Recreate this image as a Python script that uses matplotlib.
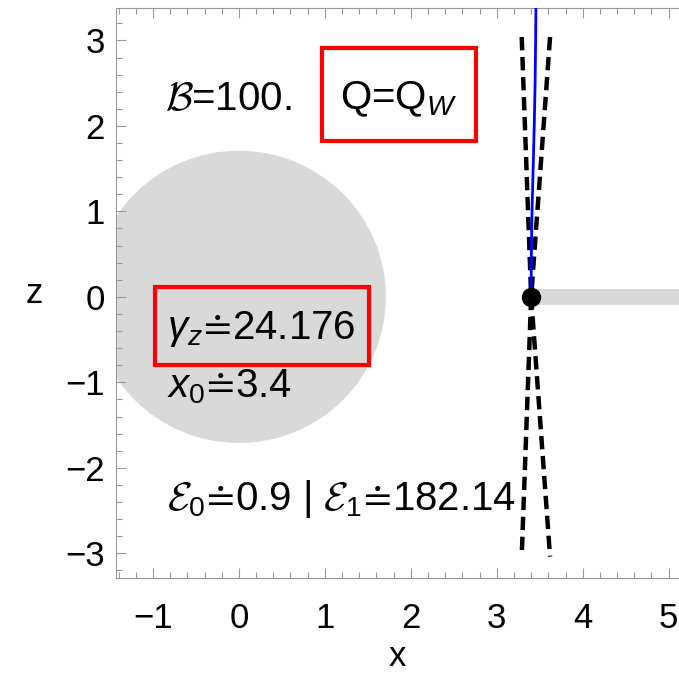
import matplotlib
matplotlib.use("Agg")
import matplotlib.pyplot as plt
from matplotlib.patches import Circle, Rectangle
from matplotlib.ticker import MultipleLocator

plt.rcParams['font.family'] = ['Liberation Sans', 'DejaVu Sans']
plt.rcParams['mathtext.fontset'] = 'custom'
plt.rcParams['mathtext.rm'] = 'Liberation Sans'
plt.rcParams['mathtext.it'] = 'Liberation Sans:italic'
plt.rcParams['mathtext.cal'] = 'cmsy10'

# data
disk_center = (0.0, 0.0)
disk_radius = 1.71
x0 = 3.4
band_halfwidth = 0.09
band_xmax = 5.12

# dashed bounds (V shapes through the start point)
bound_z = [3.04, 0.0, -3.04]
bound_left_x = [3.29, 3.4, 3.29]
bound_right_x = [3.62, 3.4, 3.62]

# blue trajectory
traj_z = [0.0, 0.5, 1.0, 1.5, 2.0, 2.5, 3.0, 3.4]
traj_x = [3.40, 3.402, 3.41, 3.423, 3.436, 3.446, 3.452, 3.456]

fig = plt.figure(figsize=(6.79, 6.94), dpi=100)
ax = fig.add_axes([0.1708, 0.1671, 0.8292, 0.8214])

gray = '#d9d9d9'
ax.add_patch(Circle(disk_center, disk_radius, color=gray, lw=0, zorder=1))
ax.fill_between([x0, band_xmax], -band_halfwidth, band_halfwidth, color=gray, lw=0, zorder=1)

ax.plot(bound_left_x, bound_z, color='black', lw=3.2, dashes=(3, 1.5), zorder=3)
ax.plot(bound_right_x, bound_z, color='black', lw=3.2, dashes=(3, 1.5), zorder=3)
ax.plot(traj_x, traj_z, color='#0000ff', lw=2.0, zorder=4)
ax.plot([x0], [0], 'o', color='black', ms=13, zorder=5)

# annotation boxes
ax.add_patch(Rectangle((0.965, 1.82), 1.79, 1.09, fill=False, ec='#ff0000', lw=3, zorder=6))
ax.add_patch(Rectangle((-0.977, -0.795), 2.49, 0.912, fill=False, ec='#ff0000', lw=3, zorder=6))

fs = 29
eq = r'\!\doteq\!'
ax.text(-0.86, 2.19, r'$\mathcal{B}$=100.', fontsize=fs, va='baseline', zorder=7)
ax.text(1.86, 2.19, r'Q=Q$_W$', fontsize=fs, va='baseline', ha='center', zorder=7)
ax.text(-0.84, -0.495, r'$\gamma_z' + eq + '$24.176', fontsize=fs, va='baseline', zorder=7)
ax.text(-0.84, -1.173, r'$x_0' + eq + '$3.4', fontsize=fs, va='baseline', zorder=7)
ax.text(-0.84, -2.49, r'$\mathcal{E}_0' + eq + r'$0.9 | $\mathcal{E}_1' + eq + '$182.14',
        fontsize=fs, va='baseline', zorder=7)

ax.set_xlim(-1.43, band_xmax)
ax.set_ylim(-3.29, 3.38)

ax.xaxis.set_major_locator(MultipleLocator(1))
ax.xaxis.set_minor_locator(MultipleLocator(0.2))
ax.yaxis.set_major_locator(MultipleLocator(1))
ax.yaxis.set_minor_locator(MultipleLocator(0.2))
ax.tick_params(which='both', direction='in', top=True, right=False, color='#999999', width=0.8)
ax.tick_params(which='major', length=7, labelsize=25)
ax.tick_params(axis='x', which='major', pad=17)
ax.tick_params(axis='y', which='major', pad=8)
ax.tick_params(which='minor', length=4)
for s in ['left', 'bottom', 'top']:
    ax.spines[s].set_color('#999999')
    ax.spines[s].set_linewidth(0.8)
ax.spines['right'].set_visible(False)

ax.set_xlabel('x', fontsize=25, labelpad=4)
ax.set_ylabel('z', fontsize=25, rotation=0, labelpad=22, va='center')

fig.savefig('out.png', dpi=100)
